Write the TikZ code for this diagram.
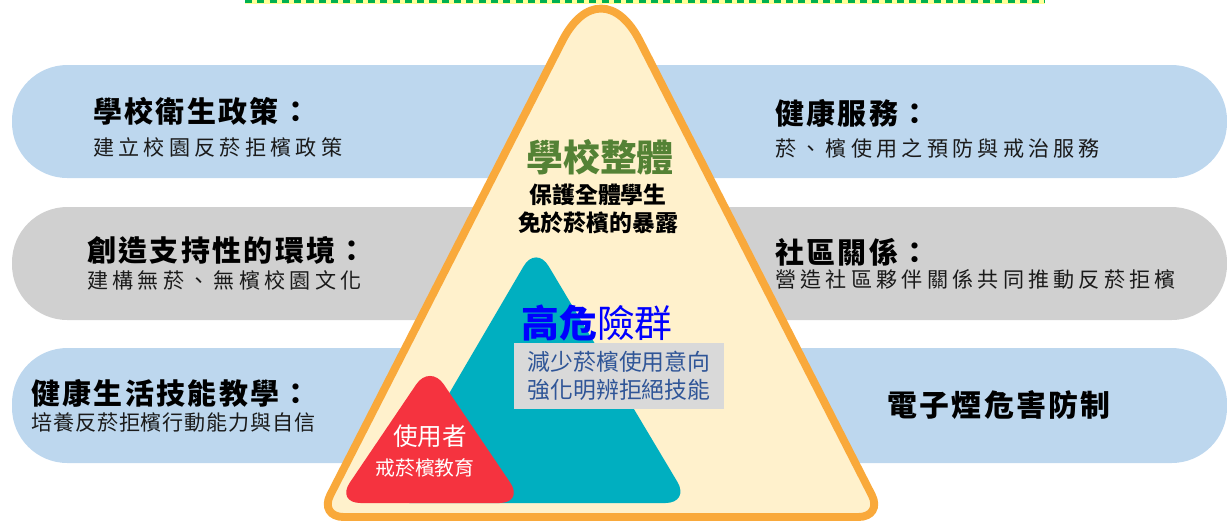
\documentclass[tikz,border=0pt]{standalone}
\usepackage{fontspec}
\setmainfont{Noto Sans CJK TC}
\newfontfamily\cjktitle[LetterSpace=8]{Noto Sans CJK TC}
\newfontfamily\cjksub[LetterSpace=20]{Noto Sans CJK TC}
\newfontfamily\cjksubtight[LetterSpace=4]{Noto Sans CJK TC}
\newfontfamily\cjkwide[LetterSpace=8]{Noto Sans CJK TC}
\definecolor{pillblue}{HTML}{BDD7EE}
\definecolor{pillgray}{HTML}{D0D0D0}
\definecolor{frame}{HTML}{F9A93B}
\definecolor{pyramid}{HTML}{FFF1CC}
\definecolor{risk}{HTML}{00AFC0}
\definecolor{user}{HTML}{F5333F}
\definecolor{whole}{HTML}{548235}
\definecolor{aimtext}{HTML}{2F5597}
\definecolor{boxgray}{HTML}{D9D9D9}
\definecolor{subtext}{HTML}{1A1A1A}
\definecolor{dashgreen}{HTML}{00B050}
\definecolor{dashyellow}{HTML}{FFFF99}

\begin{document}
\begin{tikzpicture}[x=0.02cm, y=-0.02cm,
    pill/.style={rounded corners=31.5pt},
    tip/.style={rounded corners=14pt},
    title/.style={anchor=west, inner sep=0pt, font=\cjktitle\bfseries\fontsize{16.5pt}{19pt}\selectfont},
    sub/.style={anchor=west, inner sep=0pt, text=subtext, font=\cjksub\fontsize{12pt}{14pt}\selectfont}]
    \useasboundingbox (0,0) rectangle (1227,522);
    \fill[dashyellow] (245,0) rectangle (1045,3.5);
    \draw[dashgreen, line width=1.2pt, dash pattern=on 4pt off 3pt] (245,1.5) -- (1045,1.5);
    \fill[pill, pillblue] (12,65) rectangle (1227,178);
    \fill[pill, pillgray] (12,207) rectangle (1227,320);
    \fill[pill, pillblue] (12,348) rectangle (1227,463);
    \draw[tip, line width=4.5pt, draw=frame, fill=pyramid] (601,517) -- (883,517) -- (651,63)
        .. controls (617.7,-2.3) and (584.3,-2.3) .. (551,63) -- (319,517) -- cycle;
    \fill[tip, risk] (536,503) -- (690,503) -- (536,245) -- (385,503) -- cycle;
    \fill[tip, user] (430,503) -- (524,503) -- (430,364) -- (336,503) -- cycle;

    \node[title] (policy) at (93,111) {學校衛生政策：};
    \node[sub] (policysub) at (93,147) {建立校園反菸拒檳政策};
    \node[title] (environ) at (87,250) {創造支持性的環境：};
    \node[sub] (environsub) at (87,280) {建構無菸、無檳校園文化};
    \node[title] (skills) at (31,393) {健康生活技能教學：};
    \node[sub, font=\cjksubtight\fontsize{12pt}{14pt}\selectfont] (skillssub) at (31,422) {培養反菸拒檳行動能力與自信};
    \node[title] (service) at (775,113) {健康服務：};
    \node[sub] (servicesub) at (775,148) {菸、檳使用之預防與戒治服務};
    \node[title] (community) at (775,252) {社區關係：};
    \node[sub] (communitysub) at (775,279) {營造社區夥伴關係共同推動反菸拒檳};
    \node[inner sep=0pt, font=\cjkwide\bfseries\fontsize{17pt}{20pt}\selectfont] (ecig) at (999,405) {電子煙危害防制};

    \node[inner sep=0pt, text=whole, font=\bfseries\fontsize{21pt}{24pt}\selectfont] (school) at (600,157) {學校整體};
    \node[inner sep=0pt, align=center, font=\bfseries\fontsize{13pt}{15.8pt}\selectfont] (protect) at (598,209) {保護全體學生\\免於菸檳的暴露};
    \node[inner sep=0pt, text=blue, font=\fontsize{21.5pt}{24pt}\selectfont] (highrisk) at (597,323) {{\bfseries 高危}險群};
    \node[fill=boxgray, inner xsep=8pt, inner ysep=4.5pt, align=left, text=aimtext, font=\fontsize{13pt}{15.9pt}\selectfont] (aims) at (619,376) {減少菸檳使用意向\\強化明辨拒絕技能};
    \node[inner sep=0pt, text=white, font=\fontsize{14pt}{16pt}\selectfont] (users) at (430,436) {使用者};
    \node[inner sep=0pt, text=white, font=\fontsize{11.3pt}{13pt}\selectfont] (quit) at (425,468) {戒菸檳教育};
\end{tikzpicture}
\end{document}
